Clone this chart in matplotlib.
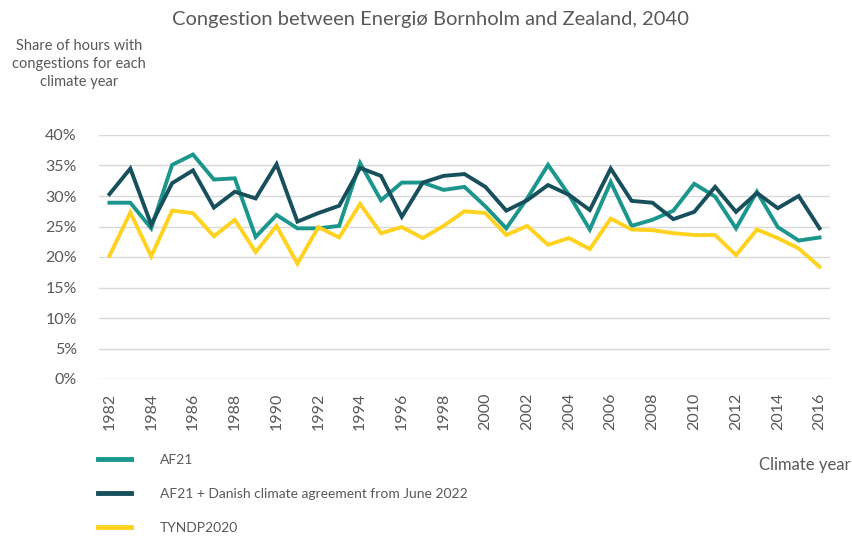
import matplotlib.pyplot as plt
from matplotlib.ticker import PercentFormatter
import numpy as np

years = list(range(1982, 2017))

af21 = [28.9, 28.9, 24.7, 35.1, 36.8, 32.7, 32.9, 23.3, 26.9, 24.7,
        24.7, 25.1, 35.4, 29.3, 32.2, 32.2, 31.0, 31.5, 28.3, 24.7,
        29.6, 35.1, 30.2, 24.5, 32.3, 25.1, 26.1, 27.6, 32.0, 29.9,
        24.7, 30.7, 24.9, 22.7, 23.2]
af21_dk = [30.3, 34.5, 25.3, 32.1, 34.2, 28.1, 30.7, 29.6, 35.2, 25.8,
           27.2, 28.4, 34.6, 33.3, 26.6, 32.2, 33.3, 33.6, 31.5, 27.6,
           29.3, 31.8, 30.2, 27.7, 34.5, 29.2, 28.9, 26.2, 27.4, 31.5,
           27.4, 30.5, 28.0, 30.0, 24.7]
tyndp = [20.2, 27.3, 20.1, 27.6, 27.2, 23.4, 26.1, 20.8, 25.1, 18.9,
         24.9, 23.2, 28.7, 23.9, 24.9, 23.1, 25.1, 27.5, 27.2, 23.6,
         25.1, 22.0, 23.1, 21.3, 26.3, 24.5, 24.4, 23.9, 23.6, 23.6,
         20.3, 24.5, 23.1, 21.4, 18.4]

labels = ["AF21", "AF21 + Danish climate agreement from June 2022", "TYNDP2020"]
colors = ["#1A968C", "#17505C", "#FFD21F"]

text_color = "#595959"
grid_color = "#D9D9D9"

plt.rcParams['font.family'] = ['Lato', 'DejaVu Sans']

fig = plt.figure(figsize=(8.53, 5.38), dpi=100)
ax = fig.add_axes([99 / 853, 1 - 379 / 538, (830 - 99) / 853, (379 - 135) / 538])

for series, label, color in zip([af21, af21_dk, tyndp], labels, colors):
    ax.plot(years, np.array(series) / 100, color=color, lw=2.8, label=label,
            solid_joinstyle='miter')

ax.set_xlim(1981.5, 2016.5)
ax.set_ylim(0, 0.4)
ax.set_yticks(np.arange(0, 0.41, 0.05))
ax.yaxis.set_major_formatter(PercentFormatter(1.0, decimals=0))
ax.set_xticks(years[::2])
ax.set_xticklabels([str(y) for y in years[::2]], rotation=90)

ax.grid(axis='y', color=grid_color, lw=1)
ax.set_axisbelow(True)
for s in ax.spines.values():
    s.set_visible(False)
ax.tick_params(length=0, labelsize=11.5, colors=text_color)
ax.tick_params(axis='y', pad=16)
ax.tick_params(axis='x', pad=10)

fig.text(430 / 853, 1 - 20 / 538, "Congestion between Energiø Bornholm and Zealand, 2040",
         ha='center', va='center', fontsize=14.5, color=text_color)
fig.text(79 / 853, 1 - 64 / 538, "Share of hours with\ncongestions for each\nclimate year",
         ha='center', va='center', fontsize=10.5, color=text_color, linespacing=1.35)
fig.text(851 / 853, 1 - 465 / 538, "Climate year", ha='right', va='center',
         fontsize=12, color=text_color)

leg = fig.legend(loc='upper left', bbox_to_anchor=(92 / 853, 1 - 448 / 538),
                 frameon=False, fontsize=10, labelspacing=1.6, handlelength=2.4,
                 handletextpad=2.1, borderaxespad=0)
for t in leg.get_texts():
    t.set_color(text_color)
for h in leg.get_lines():
    h.set_linewidth(3.5)

fig.savefig("out.png", dpi=100)
